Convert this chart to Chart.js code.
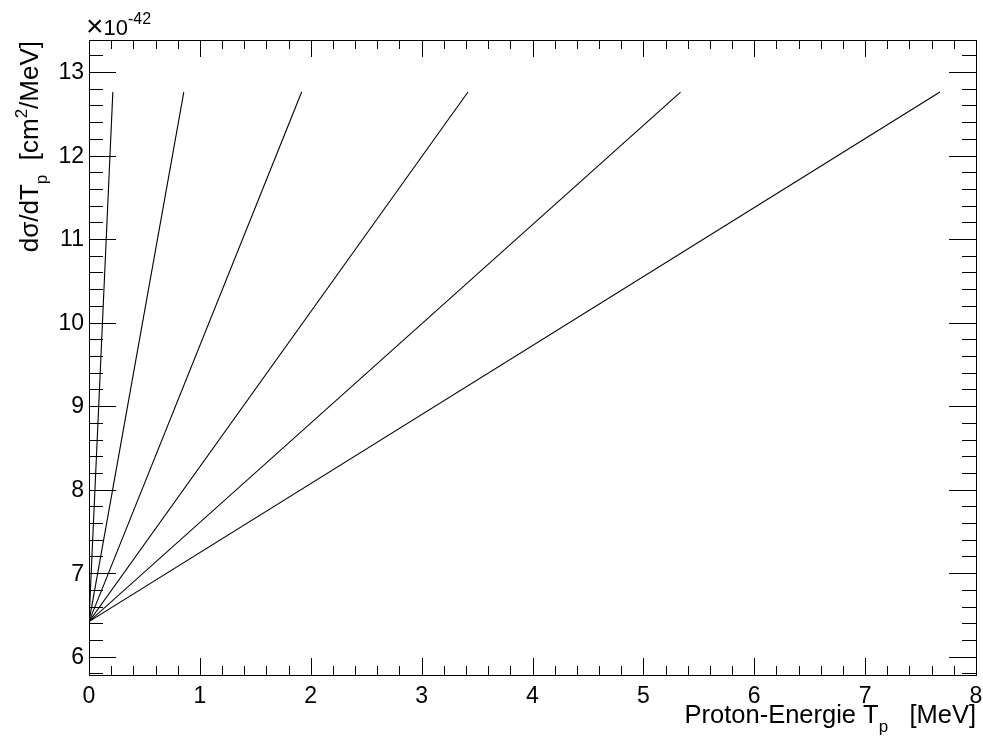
<!DOCTYPE html>
<html lang="de">
<head>
  <meta charset="UTF-8" />
  <title>dσ/dT_p</title>
  <script src="https://cdn.jsdelivr.net/npm/chart.js"></script>
  <style>
    body { margin: 0; background: #fff; }
    #wrap { width: 983px; height: 736px; }
  </style>
</head>
<body>
  <div id="wrap"><canvas id="xsec" width="983" height="736"></canvas></div>
  <script>
    // Maximum proton recoil energy of each curve [MeV]
    const tMax = [0.215, 0.855, 1.918, 3.418, 5.335, 7.675];
    // dσ/dT_p at T_p = 0 and at T_max, in units of 1e-42 cm²/MeV
    const sigmaAtZero = 6.42;
    const sigmaAtMax = 12.76;

    const xTicks = [0, 1, 2, 3, 4, 5, 6, 7, 8];
    const yTicks = [6, 7, 8, 9, 10, 11, 12, 13];
    const xRange = [0, 8];
    const yRange = [5.781, 13.383];

    const FONT = '"Liberation Sans", Arial, Helvetica, sans-serif';

    const datasets = tMax.map((t) => ({
      data: [{ x: 0, y: sigmaAtZero }, { x: t, y: sigmaAtMax }],
      borderColor: '#000',
      borderWidth: 1.1,
      pointRadius: 0,
      fill: false
    }));

    // draw a run of [text, font, baseline offset] pieces starting at x0
    function drawRun(ctx, parts, x0, y0) {
      let cx = x0;
      parts.forEach(([s, f, dy]) => {
        ctx.font = f;
        ctx.fillText(s, cx, y0 + dy);
        cx += ctx.measureText(s).width;
      });
    }
    function runWidth(ctx, parts) {
      let w = 0;
      parts.forEach(([s, f]) => { ctx.font = f; w += ctx.measureText(s).width; });
      return w;
    }

    // ROOT-style frame: inward ticks on all four sides, labels, axis titles
    const rootFrame = {
      id: 'rootFrame',
      afterDraw(chart) {
        const { ctx, chartArea: a, scales: { x, y } } = chart;
        ctx.save();
        ctx.strokeStyle = '#000';
        ctx.fillStyle = '#000';
        ctx.lineWidth = 1;
        ctx.strokeRect(a.left + 0.5, a.top + 0.5, a.right - a.left, a.bottom - a.top);

        ctx.beginPath();
        // x ticks every 0.2, major every 1
        for (let i = 0; i <= 40; i++) {
          const v = xRange[0] + i * 0.2;
          const px = Math.round(x.getPixelForValue(v)) + 0.5;
          const len = i % 5 === 0 ? 17 : 9;
          ctx.moveTo(px, a.bottom); ctx.lineTo(px, a.bottom - len);
          ctx.moveTo(px, a.top); ctx.lineTo(px, a.top + len);
        }
        // y ticks every 0.2, major every 1
        for (let i = 29; i <= 67; i++) {
          const v = i * 0.2;
          if (v < yRange[0] || v > yRange[1]) continue;
          const py = Math.round(y.getPixelForValue(v)) + 0.5;
          const len = i % 5 === 0 ? 27 : 14;
          ctx.moveTo(a.left, py); ctx.lineTo(a.left + len, py);
          ctx.moveTo(a.right, py); ctx.lineTo(a.right - len, py);
        }
        ctx.stroke();

        ctx.font = '23px ' + FONT;
        ctx.textAlign = 'center';
        ctx.textBaseline = 'alphabetic';
        xTicks.forEach((v) => ctx.fillText(String(v), x.getPixelForValue(v), 703));
        ctx.textAlign = 'right';
        ctx.textBaseline = 'middle';
        yTicks.forEach((v) => ctx.fillText(String(v), 84, y.getPixelForValue(v) + 1));

        // multiplier above the y axis
        ctx.textAlign = 'left';
        ctx.textBaseline = 'alphabetic';
        drawRun(ctx, [['\u00d7', '30px ' + FONT, 1], ['10', '22px ' + FONT, 0], ['-42', '16px ' + FONT, -11]], 86, 35);

        // x axis title, right aligned to the frame
        const big = '25.5px ' + FONT, small = '17px ' + FONT;
        const xParts = [['Proton-Energie T', big, 0], ['p', small, 9], ['   [MeV]', big, 0]];
        drawRun(ctx, xParts, a.right - runWidth(ctx, xParts), 723);

        // y axis title, rotated, ending at the top of the frame
        const bigY = '26px ' + FONT, smallY = '17px ' + FONT;
        ctx.translate(38, a.top + 1);
        ctx.rotate(-Math.PI / 2);
        const yParts = [['d\u03c3/dT', bigY, 0], ['p', smallY, 9], ['  [cm', bigY, 0], ['2', smallY, -11], ['/MeV]', bigY, 0]];
        drawRun(ctx, yParts, -runWidth(ctx, yParts), 0);
        ctx.restore();
      }
    };

    new Chart(document.getElementById('xsec'), {
      type: 'line',
      data: { datasets },
      options: {
        responsive: false,
        animation: false,
        layout: { padding: { left: 89, right: 7, top: 40, bottom: 61 } },
        plugins: { legend: { display: false }, tooltip: { enabled: false } },
        scales: {
          x: { type: 'linear', display: false, min: xRange[0], max: xRange[1] },
          y: { type: 'linear', display: false, min: yRange[0], max: yRange[1] }
        }
      },
      plugins: [rootFrame]
    });
  </script>
</body>
</html>
